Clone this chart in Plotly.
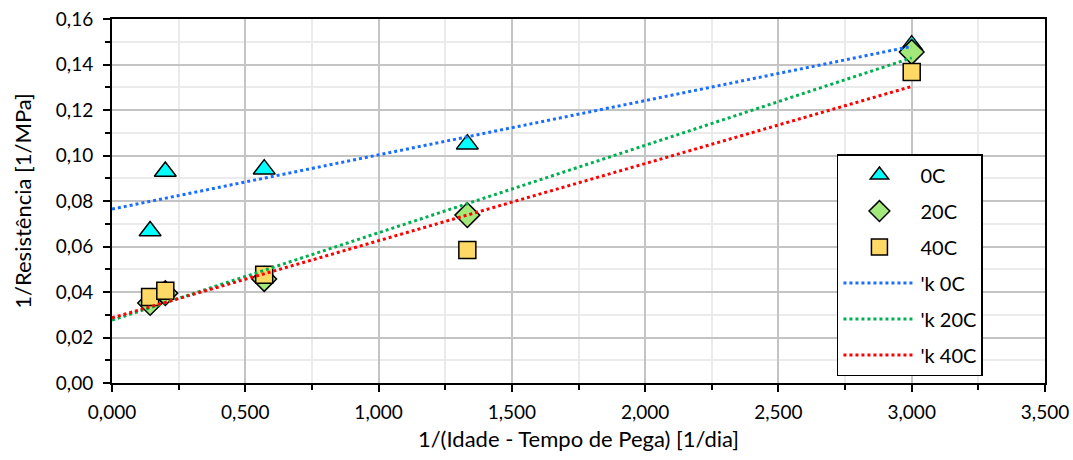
import numpy as np
import plotly.graph_objects as go

x_vals = [0.143, 0.200, 0.571, 1.333, 3.000]
y_0C = [0.0668, 0.0930, 0.0940, 0.1050, 0.1485]
y_20C = [0.0352, 0.0395, 0.0457, 0.0738, 0.1455]
y_40C = [0.0378, 0.0405, 0.0476, 0.0585, 0.1367]

series_names = ["0C", "20C", "40C"]
trend_names = ["'k 0C", "'k 20C", "'k 40C"]
x_ticks = [0, 0.5, 1.0, 1.5, 2.0, 2.5, 3.0, 3.5]
y_ticks = [0, 0.02, 0.04, 0.06, 0.08, 0.10, 0.12, 0.14, 0.16]

FONT = "Lato"
fig = go.Figure()

styles = [
    dict(symbol="triangle-up", color="#00FFFF", size=19),
    dict(symbol="diamond", color="#A3E87B", size=19),
    dict(symbol="square", color="#FFD966", size=17),
]
for name, ys, st in zip(series_names, [y_0C, y_20C, y_40C], styles):
    fig.add_trace(go.Scatter(
        x=x_vals, y=ys, mode="markers", name=name, legendgroup=name,
        marker=dict(symbol=st["symbol"], color=st["color"], size=st["size"],
                    line=dict(color="black", width=1.5)),
    ))

line_colors = ["#1A6EFF", "#00B050", "#FF0000"]
for name, ys, c in zip(trend_names, [y_0C, y_20C, y_40C], line_colors):
    slope, intercept = np.polyfit(x_vals, ys, 1)
    xs = np.array([0.0, max(x_vals)])
    fig.add_trace(go.Scatter(
        x=xs, y=slope * xs + intercept, mode="lines", name=name, legendgroup=name,
        line=dict(color=c, width=3, dash="dot"),
    ))

axis_common = dict(
    showline=True, linecolor="black", linewidth=2, mirror=True,
    ticks="outside", ticklen=7, tickwidth=2, tickcolor="black",
    showgrid=True, gridcolor="#C4C4C4", gridwidth=1.5,
    zeroline=False, automargin=False,
    tickfont=dict(family=FONT, size=19, color="black"),
)

fig.update_xaxes(
    range=[0, 3.5], tickvals=x_ticks, tickformat=".3f",
    minor=dict(dtick=0.25, ticks="outside", ticklen=5, tickcolor="black",
               showgrid=True, gridcolor="#EBEBEB", gridwidth=1.5),
    title=dict(text="1/(Idade - Tempo de Pega) [1/dia]",
               font=dict(family=FONT, size=22, color="black"), standoff=10),
    ticklabelstandoff=4,
    **axis_common,
)
fig.update_yaxes(
    range=[0, 0.16], tickvals=y_ticks, tickformat=".2f",
    minor=dict(dtick=0.01, ticks="outside", ticklen=5, tickcolor="black",
               showgrid=True, gridcolor="#EBEBEB", gridwidth=1.5),
    title=dict(text="1/Resistência [1/MPa]",
               font=dict(family=FONT, size=22, color="black"), standoff=18),
    ticklabelstandoff=6,
    **axis_common,
)

fig.update_layout(
    width=1073, height=460,
    margin=dict(l=112, r=28, t=19, b=77),
    separators=",.",
    plot_bgcolor="white", paper_bgcolor="white",
    legend=dict(
        x=0.777, y=0.629, xanchor="left", yanchor="top",
        bgcolor="white", bordercolor="black", borderwidth=1.5,
        font=dict(family=FONT, size=20, color="black"),
        tracegroupgap=7, itemwidth=72, entrywidth=150,
    ),
)

fig.write_html("out.html")
